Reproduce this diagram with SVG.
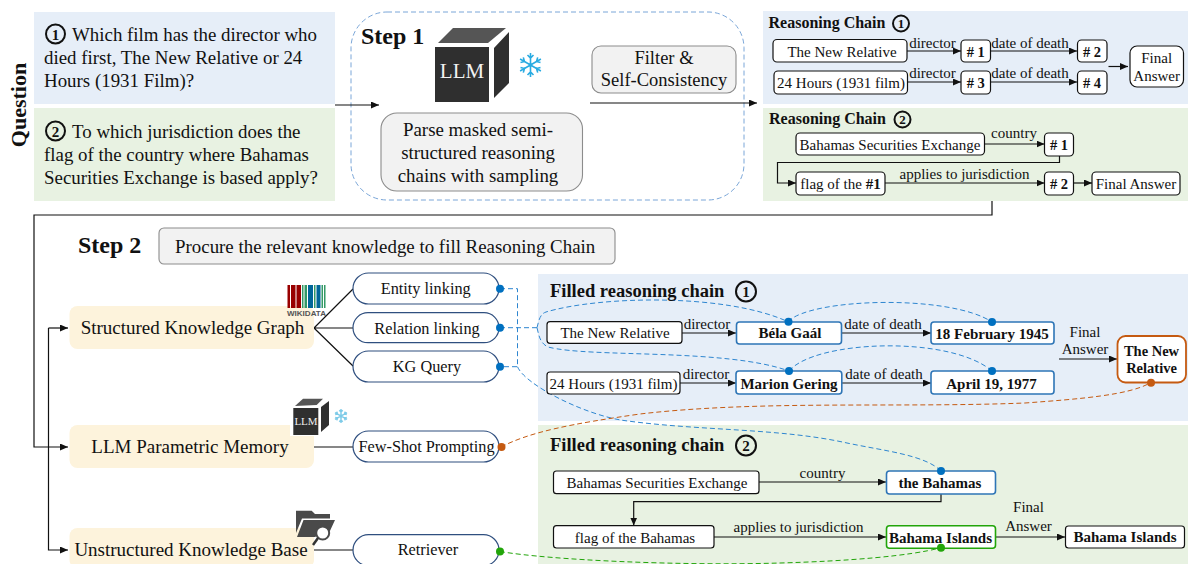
<svg xmlns="http://www.w3.org/2000/svg" xmlns:xlink="http://www.w3.org/1999/xlink" width="1188" height="564" viewBox="0 0 1188 564">
<style>
text{font-family:"Liberation Serif","Times New Roman",serif;fill:#111}
.m{text-anchor:middle}
.b{font-weight:bold}
.q{font-size:18.9px}
.s15{font-size:15px}
.s14{font-size:14.5px}
.title{font-size:16px;font-weight:bold}
.ftitle{font-size:18.5px;font-weight:bold}
.step{font-size:24px;font-weight:bold}
.src{font-size:19px}
.pilltxt{font-size:16.3px}
.n{fill:#fff;stroke:#111;stroke-width:1.2}
.nb{fill:#fff;stroke:#2e75b6;stroke-width:1.6}
.ng{fill:#fff;stroke:#22a50a;stroke-width:1.6}
.no{fill:#fff;stroke:#c55a11;stroke-width:1.8}
.grey{fill:#f2f2f2;stroke:#8c8c8c;stroke-width:1.1}
.pill{fill:#fff;stroke:#2f4f7f;stroke-width:1.2}
.src-box{fill:#fdf3dc}
.blue{fill:#e6eef8}
.green{fill:#e8f2e2}
.c{fill:none;stroke:#111;stroke-width:1.2}
.a{marker-end:url(#arr)}
.dbl{fill:none;stroke:#2e86d0;stroke-width:1;stroke-dasharray:5 3}
.dor{fill:none;stroke:#c55a11;stroke-width:1;stroke-dasharray:5 3}
.dgr{fill:none;stroke:#22a50a;stroke-width:1;stroke-dasharray:5 3}
.ring{fill:none;stroke:#111;stroke-width:2}
.dk{fill:#2f2f2f}
.dk2{fill:#555}
</style>
<defs>
<marker id="arr" markerUnits="userSpaceOnUse" markerWidth="9" markerHeight="8" refX="8" refY="3.500" orient="auto"><path d="M0 0L8 3.500L0 7Z" fill="#111"/></marker>
<g id="flake">
<path d="M0-12V12M-10.4-6L10.4 6M-10.4 6L10.4-6M-3-10L0-7L3-10M-3 10L0 7L3 10M-7.2-7.6L-6-3.5L-10-2.5M7.2 7.6L6 3.5L10 2.5M7.2-7.6L6-3.5L10-2.5M-7.2 7.6L-6 3.5L-10 2.5"/>
</g>
</defs>

<g id="panels">
<rect class="blue" x="34" y="12" width="301" height="92"/>
<rect class="green" x="34" y="108" width="301" height="93"/>
<rect class="blue" x="763" y="11" width="425" height="93"/>
<rect class="green" x="763" y="108" width="425" height="93"/>
<rect class="blue" x="538" y="274" width="650" height="147"/>
<rect class="green" x="538" y="425" width="650" height="139"/>
</g>

<text id="question-label" class="b" font-size="22" transform="translate(26 105) rotate(-90)" text-anchor="middle">Question</text>

<g id="q1">
<circle class="ring" cx="55.500" cy="34" r="9.500"/><text class="m b" x="55.500" y="39.500" font-size="15">1</text>
<text class="q" x="72" y="41">Which film has the director who</text>
<text class="q" x="44" y="64">died first, The New Relative or 24</text>
<text class="q" x="44" y="87">Hours (1931 Film)?</text>
</g>
<g id="q2">
<circle class="ring" cx="55.500" cy="131" r="9.500"/><text class="m b" x="55.500" y="136.500" font-size="15">2</text>
<text class="q" x="72" y="138">To which jurisdiction does the</text>
<text class="q" x="44" y="161">flag of the country where Bahamas</text>
<text class="q" x="44" y="184">Securities Exchange is based apply?</text>
</g>

<g id="step1">
<rect x="351" y="12" width="393" height="188" rx="36" fill="none" stroke="#7aa6d8" stroke-width="1" stroke-dasharray="5 3"/>
<text class="step" x="361" y="44">Step 1</text>
</g>
<g id="llm-large">
<rect class="dk" x="435" y="47" width="54" height="55"/>
<path class="dk2" d="M438 43L453 28H506L488 43Z"/>
<path class="dk" d="M494 48L509 32V83L494 98Z"/>
<text class="m" x="462" y="78" font-size="21" style="fill:#f2f2f2">LLM</text>
</g>
<use xlink:href="#flake" href="#flake" transform="translate(530.500 65)" fill="none" stroke="#29abe2" stroke-width="1.600"/>
<g id="parse">
<rect class="grey" x="381" y="113" width="201.500" height="78" rx="16"/>
<text class="q m" x="478" y="136">Parse masked semi-</text>
<text class="q m" x="478" y="159">structured reasoning</text>
<text class="q m" x="478" y="182">chains with sampling</text>
</g>
<g id="filter">
<rect class="grey" x="592" y="46" width="144" height="47" rx="9"/>
<text class="m" x="664" y="64" font-size="18.500">Filter &amp;</text>
<text class="m" x="664" y="86" font-size="18.500">Self-Consistency</text>
</g>

<g id="connectors">
<path class="c a" d="M335 105H379"/>
<path class="c a" d="M590 103H757"/>
<path class="c a" d="M907 51H961"/>
<path class="c a" d="M990.500 51H1077"/>
<path class="c a" d="M907.500 82H961"/>
<path class="c a" d="M990.500 82H1077"/>
<path class="c a" d="M1108.500 66.500H1128"/>
<path class="c a" d="M984.500 144H1044.500"/>
<path class="c a" d="M1059.500 156V162.500H777.500V183H796"/>
<path class="c a" d="M885 183H1044.500"/>
<path class="c a" d="M1073.500 183H1092"/>
<path class="c a" d="M992 201V215H34V447H68"/>
<path class="c a" d="M48.500 328V550H68"/>
<path class="c a" d="M48.500 328H68"/>
<path class="c" d="M314 328L353 289M314 328H353M314 328L353 366M314 447H353M314 550H353"/>
<path class="c a" d="M682 333H736"/>
<path class="c a" d="M841 333H931"/>
<path class="c a" d="M680 383H736"/>
<path class="c a" d="M842 383H931"/>
<path class="c a" d="M1059 359H1117"/>
<path class="c a" d="M759 482H886"/>
<path class="c a" d="M941 494V501.700H633.700V525.500"/>
<path class="c a" d="M714 537H886"/>
<path class="c a" d="M995.500 537H1065"/>
<path class="dbl" d="M500 288.700H517.500V366.700H500"/>
<path class="dbl" d="M500 327.700H537"/>
<path class="dbl" d="M537 327.700C539 320 540 314 546 312C600 296 725 293 788 321.700"/>
<path class="dbl" d="M537 327.700C539 336 540 343 548 347C590 358 725 348 789 371"/>
<path class="dbl" d="M788 321.700C810 298 950 294 992 322"/>
<path class="dbl" d="M789 371C815 340 950 335 992 371"/>
<path class="dbl" d="M517.500 366.700C525 385 585 415 624 420.500C700 431 780 428 847 443C885 451 925 455 941 471"/>
<path class="dor" d="M501 447C530 432 570 424 640 414C760 400 900 408 1025 403C1080 399 1130 395 1150.500 382.700"/>
<path class="dgr" d="M500 551.500C550 560 680 566 780 563C850 561 910 556 941 547.700"/>
</g>

<g id="rc1">
<text class="title" x="768.500" y="28">Reasoning Chain</text>
<circle class="ring" cx="901" cy="23.500" r="8"/><text class="m b" x="901" y="28" font-size="13">1</text>
</g>
<g id="rc1-a"><rect class="n" x="773" y="39.500" width="134" height="22.500" rx="4"/><text class="s15 m" x="842" y="57">The New Relative</text></g>
<g id="rc1-b"><rect class="n" x="961" y="40" width="29.500" height="22" rx="4"/><text class="s14 m b" x="975.700" y="56.500"># 1</text></g>
<g id="rc1-c"><rect class="n" x="1077.500" y="40" width="29.500" height="22" rx="4"/><text class="s14 m b" x="1092" y="56.500"># 2</text></g>
<g id="rc1-d"><rect class="n" x="774" y="71" width="133.500" height="23" rx="4"/><text class="s15 m" x="841" y="88">24 Hours (1931 film)</text></g>
<g id="rc1-e"><rect class="n" x="961" y="71" width="29.500" height="23" rx="4"/><text class="s14 m b" x="975.700" y="88"># 3</text></g>
<g id="rc1-f"><rect class="n" x="1077.500" y="71" width="29.500" height="23" rx="4"/><text class="s14 m b" x="1092" y="88"># 4</text></g>
<g id="rc1-final"><rect class="n" x="1130" y="46" width="53.500" height="41" rx="7"/><text class="s15 m" x="1156.700" y="62.500">Final</text><text class="s15 m" x="1156.700" y="80.500">Answer</text></g>
<g id="rc1-labels">
<text class="s15 m" x="932.500" y="48">director</text>
<text class="s15 m" x="1030" y="48">date of death</text>
<text class="s15 m" x="932.500" y="78">director</text>
<text class="s15 m" x="1030" y="78">date of death</text>
</g>

<g id="rc2">
<text class="title" x="769" y="124">Reasoning Chain</text>
<circle class="ring" cx="902.500" cy="119.500" r="8"/><text class="m b" x="902.500" y="124" font-size="13">2</text>
</g>
<g id="rc2-a"><rect class="n" x="796" y="133" width="188.500" height="22" rx="4"/><text class="s15 m" x="890" y="150">Bahamas Securities Exchange</text></g>
<g id="rc2-b"><rect class="n" x="1044.500" y="133" width="29" height="23" rx="4"/><text class="s14 m b" x="1059" y="150"># 1</text></g>
<g id="rc2-c"><rect class="n" x="796" y="172" width="89" height="23" rx="4"/><text class="s15 m" x="840.500" y="189">flag of the <tspan class="b">#1</tspan></text></g>
<g id="rc2-d"><rect class="n" x="1044.500" y="172" width="29" height="23" rx="4"/><text class="s14 m b" x="1059" y="189"># 2</text></g>
<g id="rc2-e"><rect class="n" x="1092" y="172" width="88" height="23" rx="4"/><text class="s15 m" x="1136" y="189">Final Answer</text></g>
<g id="rc2-labels">
<text class="s15 m" x="1014" y="138">country</text>
<text class="s15 m" x="964.500" y="179">applies to jurisdiction</text>
</g>

<text id="step2" class="step" x="78" y="253">Step 2</text>
<g id="procure">
<rect class="grey" x="159" y="228" width="456" height="36" rx="5"/>
<text class="q" x="175" y="253">Procure the relevant knowledge to fill Reasoning Chain</text>
</g>

<g id="skg"><rect class="src-box" x="69.500" y="306" width="244.500" height="43" rx="8"/><text class="src m" x="192.500" y="334">Structured Knowledge Graph</text></g>
<g id="lpm"><rect class="src-box" x="69.500" y="425" width="244.500" height="43" rx="8"/><text class="src m" x="190" y="453">LLM Parametric Memory</text></g>
<g id="ukb"><rect class="src-box" x="69.500" y="528" width="244.500" height="40" rx="8"/><text class="src m" x="191" y="556">Unstructured Knowledge Base</text></g>

<g id="wikidata">
<rect x="287.500" y="285" width="2.500" height="23" fill="#990000"/>
<rect x="291" y="285" width="4.500" height="23" fill="#990000"/>
<rect x="296.500" y="285" width="4.500" height="23" fill="#990000"/>
<rect x="302" y="285" width="1.500" height="23" fill="#339966"/>
<rect x="304.500" y="285" width="2.500" height="23" fill="#339966"/>
<rect x="308" y="285" width="5" height="23" fill="#006699"/>
<rect x="314" y="285" width="1.500" height="23" fill="#339966"/>
<rect x="316.500" y="285" width="4" height="23" fill="#006699"/>
<rect x="321.500" y="285" width="1.500" height="23" fill="#339966"/>
<rect x="324" y="285" width="1.500" height="23" fill="#339966"/>
<text x="287" y="315.700" textLength="39" lengthAdjust="spacingAndGlyphs" style="font-family:'Liberation Sans',Arial,sans-serif;font-size:7px;font-weight:bold;fill:#555">WIKIDATA</text>
</g>

<g id="llm-small">
<rect x="290" y="398" width="40" height="38" fill="#fff"/>
<rect class="dk" x="293.300" y="408" width="25" height="27"/>
<path class="dk2" d="M295 406L303 398.700H323L316.700 405Z"/>
<path class="dk" d="M321 407L329 401V425L321 432Z"/>
<text class="m" x="306" y="425" font-size="11" style="fill:#eee">LLM</text>
</g>
<use xlink:href="#flake" href="#flake" transform="translate(341 416) scale(.58)" fill="none" stroke="#7ecbe8" stroke-width="2.500"/>

<g id="folder">
<path fill="#4a4a4a" d="M296 510.700H311.700L315 514H330V518.500H302L296 533Z"/>
<path fill="#4a4a4a" d="M303.500 520H335L329 533H322L315 537H297Z"/>
<circle cx="322.700" cy="533" r="6.500" fill="#fff" stroke="#4a4a4a" stroke-width="2"/>
<path d="M318 538L313 545" stroke="#333" stroke-width="2.500"/>
</g>

<g id="p-entity"><rect class="pill" x="353" y="273" width="146" height="31" rx="15.500"/><text class="pilltxt m" x="425.700" y="294">Entity linking</text></g>
<g id="p-relation"><rect class="pill" x="353" y="312.700" width="146" height="30" rx="15"/><text class="pilltxt m" x="427" y="334">Relation linking</text></g>
<g id="p-query"><rect class="pill" x="353" y="351" width="146" height="31" rx="15.500"/><text class="pilltxt m" x="427" y="372">KG Query</text></g>
<g id="p-few"><rect class="pill" x="353" y="431" width="146" height="31" rx="15.500"/><text class="pilltxt m" x="426.500" y="452">Few-Shot Prompting</text></g>
<g id="p-ret"><rect class="pill" x="353" y="534.700" width="146" height="31" rx="15.500"/><text class="pilltxt m" x="428" y="555">Retriever</text></g>

<g id="f1">
<text class="ftitle" x="550" y="297">Filled reasoning chain</text>
<circle class="ring" cx="746" cy="291.500" r="10"/><text class="m b" x="746" y="297" font-size="15">1</text>
</g>
<g id="f1-a"><rect class="n" x="547" y="321.700" width="135" height="21.600" rx="3"/><text class="s15 m" x="615" y="338">The New Relative</text></g>
<g id="f1-b"><rect class="nb" x="736.500" y="322" width="105" height="22" rx="3"/><text class="s15 m b" x="790" y="338">Béla Gaál</text></g>
<g id="f1-c"><rect class="nb" x="931" y="322" width="123" height="22" rx="3"/><text class="s15 m b" x="992" y="339">18 February 1945</text></g>
<g id="f1-d"><rect class="n" x="547" y="372" width="133" height="22" rx="3"/><text class="s15 m" x="613.500" y="389">24 Hours (1931 film)</text></g>
<g id="f1-e"><rect class="nb" x="736" y="371" width="105.800" height="23" rx="3"/><text class="s15 m b" x="789" y="389">Marion Gering</text></g>
<g id="f1-f"><rect class="nb" x="931" y="371" width="123" height="23" rx="3"/><text class="s15 m b" x="991.500" y="389">April 19, 1977</text></g>
<g id="f1-final"><rect class="no" x="1117.500" y="336" width="68.500" height="46.500" rx="8"/><text class="s14 m b" x="1151.500" y="355.500">The New</text><text class="s14 m b" x="1151.500" y="373">Relative</text></g>
<g id="f1-labels">
<text class="s15 m" x="707" y="329">director</text>
<text class="s15 m" x="883" y="329">date of death</text>
<text class="s15 m" x="706" y="379">director</text>
<text class="s15 m" x="884" y="379">date of death</text>
<text class="s15 m" x="1085" y="336.500">Final</text>
<text class="s15 m" x="1085" y="354">Answer</text>
</g>

<g id="f2">
<text class="ftitle" x="550" y="451">Filled reasoning chain</text>
<circle class="ring" cx="746" cy="445.500" r="10"/><text class="m b" x="746" y="451" font-size="15">2</text>
</g>
<g id="f2-a"><rect class="n" x="553.500" y="471" width="205.500" height="22.700" rx="3"/><text class="s15 m" x="657" y="488">Bahamas Securities Exchange</text></g>
<g id="f2-b"><rect class="nb" x="886.500" y="471" width="109" height="23" rx="3"/><text class="s15 m b" x="940" y="487.500">the Bahamas</text></g>
<g id="f2-c"><rect class="n" x="553.500" y="525.700" width="160.500" height="22.300" rx="3"/><text class="s15 m" x="635" y="543">flag of the Bahamas</text></g>
<g id="f2-d"><rect class="ng" x="886.500" y="525.700" width="109" height="22.500" rx="3"/><text class="s15 m b" x="940.500" y="543">Bahama Islands</text></g>
<g id="f2-e"><rect class="n" x="1065.500" y="526" width="119" height="22" rx="3"/><text class="s15 m b" x="1125" y="542">Bahama Islands</text></g>
<g id="f2-labels">
<text class="s15 m" x="822.500" y="478">country</text>
<text class="s15 m" x="798.500" y="532">applies to jurisdiction</text>
<text class="s15 m" x="1028.500" y="512">Final</text>
<text class="s15 m" x="1028.500" y="530.500">Answer</text>
</g>

<g id="dots">
<g fill="#0070c0">
<circle cx="500" cy="288.700" r="4"/><circle cx="500" cy="327.700" r="4"/><circle cx="500" cy="366.700" r="4"/>
<circle cx="788.500" cy="321.700" r="4"/><circle cx="992" cy="322" r="4"/>
<circle cx="789" cy="371" r="4"/><circle cx="992" cy="371" r="4"/><circle cx="941" cy="471" r="4"/>
</g>
<circle cx="501.500" cy="447" r="4" fill="#c55a11"/><circle cx="1151" cy="382.700" r="4" fill="#c55a11"/>
<circle cx="500" cy="551.500" r="4" fill="#22a50a"/><circle cx="941" cy="547.700" r="4" fill="#22a50a"/>
</g>
</svg>
